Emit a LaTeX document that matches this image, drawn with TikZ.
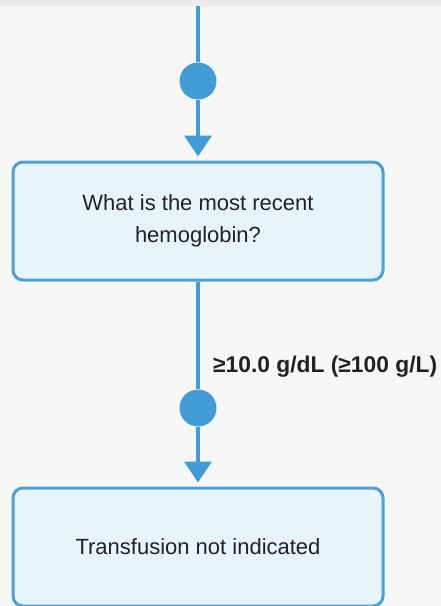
\documentclass[tikz,border=0pt]{standalone}
\usepackage{fontspec}
\setmainfont{Liberation Sans}
\usetikzlibrary{arrows.meta}
\definecolor{flowblue}{HTML}{429DD6}
\definecolor{boxedge}{HTML}{4CA1D8}
\definecolor{boxfill}{HTML}{E8F4FC}
\definecolor{pagebg}{HTML}{F7F7F7}
\definecolor{bandgray}{HTML}{EBEBEB}
\definecolor{inktext}{HTML}{222222}
\begin{document}
\begin{tikzpicture}[x=1pt,y=-1pt,
  stepbox/.style={draw=boxedge, fill=boxfill, line width=3pt, rounded corners=10pt,
    minimum width=370pt, minimum height=118pt, align=center, text=inktext,
    font=\fontsize{22}{32}\selectfont, inner sep=0pt},
  joint/.style={circle, fill=flowblue, minimum size=37pt, inner sep=0pt},
  flow/.style={draw=flowblue, line width=4pt},
  flowarrow/.style={flow, -{Triangle[width=27pt,length=21pt]}, shorten >=4pt},
  edgelabel/.style={font=\bfseries\fontsize{22.8}{26}\selectfont, text=inktext, inner sep=0pt}]
  % canvas and top band
  \fill[pagebg] (0,0) rectangle (441,606);
  \fill[bandgray] (0,0) rectangle (441,6);
  \useasboundingbox (0,0) rectangle (441,606);

  \coordinate (top) at (198,6);
  \node[joint] (d1) at (198,81) {};
  \node[stepbox] (q) at (198,221) {What is the most recent\\hemoglobin?};
  \node[joint] (d2) at (198,408) {};
  \node[stepbox] (res) at (198,547) {Transfusion not indicated};
  \node[edgelabel, anchor=west] (lab) at (213,367) {≥10.0 g/dL (≥100 g/L)};

  \draw[flow] (top) -- (d1);
  \draw[flowarrow] (d1) -- (q.north);
  \draw[flow] (q.south) -- (d2);
  \draw[flowarrow] (d2) -- (res.north);
\end{tikzpicture}
\end{document}
